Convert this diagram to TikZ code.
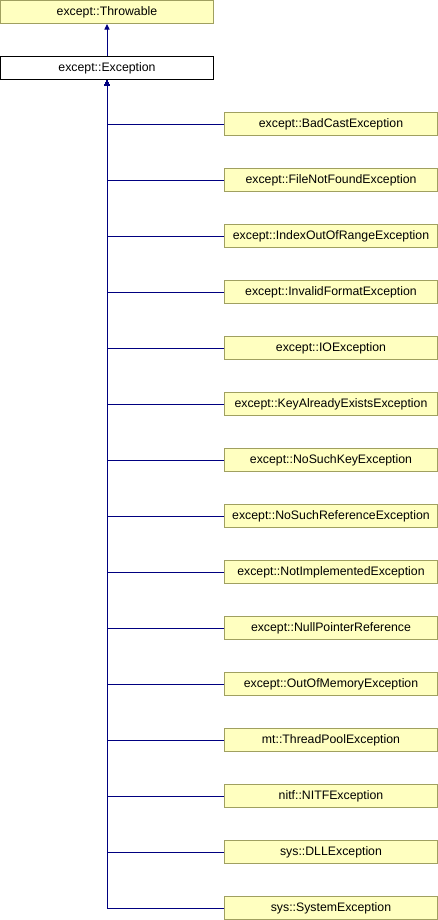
\documentclass[tikz,border=0pt]{standalone}
\usepackage{fontspec}
\setmainfont{Liberation Sans}
\usetikzlibrary{arrows.meta}
\definecolor{boxfill}{HTML}{FFFFC0}
\definecolor{boxline}{HTML}{A0A060}
\definecolor{edgecol}{HTML}{000080}
\tikzset{
  cls/.style={draw=boxline, fill=boxfill, line width=1bp, minimum width=213bp, minimum height=23bp, inner sep=0pt, font=\fontsize{12.3bp}{14bp}\selectfont},
  curcls/.style={cls, draw=black, fill=white},
  edge/.style={draw=edgecol, line width=1bp, -{Triangle[length=5.5bp,width=5bp]}},
}
\begin{document}
\begin{tikzpicture}[x=1bp,y=-1bp]
\useasboundingbox (0,0) rectangle (438,920);
\node[cls] (thr) at (107,12) {except::Throwable};
\node[curcls] (exc) at (107,68) {except::Exception};
\draw[edge] (exc.north) -- (thr.south);
\foreach \name/\txt [count=\i from 0] in {
  c1/except::BadCastException,
  c2/except::FileNotFoundException,
  c3/except::IndexOutOfRangeException,
  c4/except::InvalidFormatException,
  c5/except::IOException,
  c6/except::KeyAlreadyExistsException,
  c7/except::NoSuchKeyException,
  c8/except::NoSuchReferenceException,
  c9/except::NotImplementedException,
  c10/except::NullPointerReference,
  c11/except::OutOfMemoryException,
  c12/mt::ThreadPoolException,
  c13/nitf::NITFException,
  c14/sys::DLLException,
  c15/sys::SystemException}{
  \node[cls] (\name) at (331,{124+56*\i}) {\txt};
  \draw[edge] (\name.west) -| (exc.south);
}
\end{tikzpicture}
\end{document}
